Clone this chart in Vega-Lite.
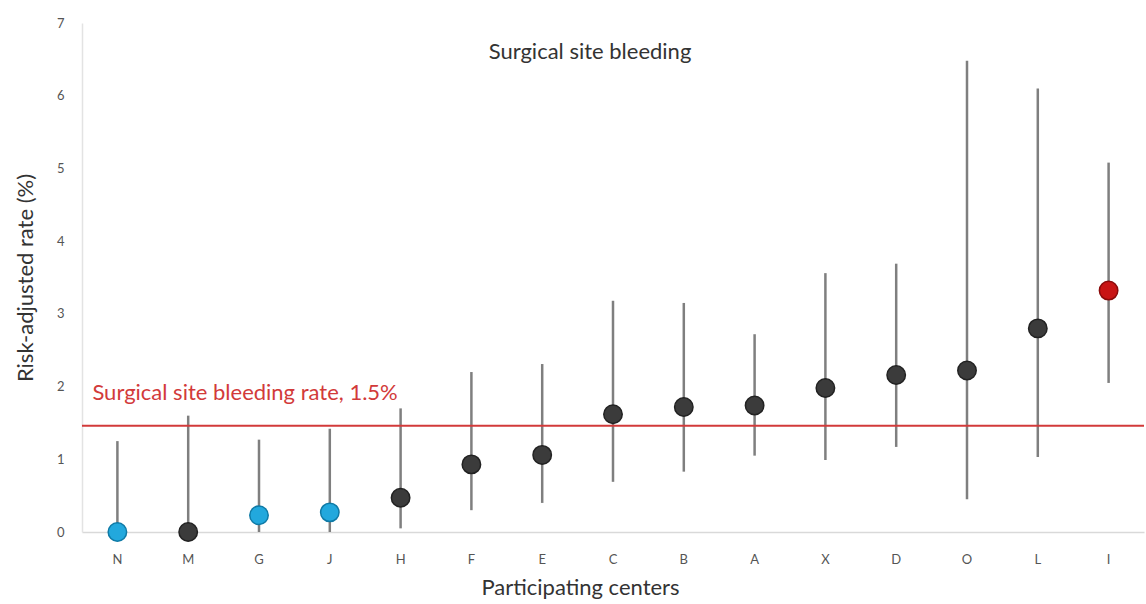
{
  "$schema": "https://vega.github.io/schema/vega-lite/v6.json",
  "width": 1062,
  "height": 509,
  "autosize": "none",
  "padding": {"left": 82, "top": 23, "right": 2, "bottom": 72},
  "background": "white",
  "config": {"view": {"stroke": null}, "font": "Lato"},
  "datasets": {
    "centers": [
      {"center": "N", "rate": 0.0, "lower": 0.0, "upper": 1.25, "group": "low"},
      {"center": "M", "rate": 0.0, "lower": 0.0, "upper": 1.6, "group": "mid"},
      {"center": "G", "rate": 0.23, "lower": 0.0, "upper": 1.27, "group": "low"},
      {"center": "J", "rate": 0.27, "lower": 0.0, "upper": 1.42, "group": "low"},
      {"center": "H", "rate": 0.47, "lower": 0.05, "upper": 1.7, "group": "mid"},
      {"center": "F", "rate": 0.93, "lower": 0.3, "upper": 2.2, "group": "mid"},
      {"center": "E", "rate": 1.06, "lower": 0.4, "upper": 2.31, "group": "mid"},
      {"center": "C", "rate": 1.62, "lower": 0.69, "upper": 3.18, "group": "mid"},
      {"center": "B", "rate": 1.72, "lower": 0.83, "upper": 3.15, "group": "mid"},
      {"center": "A", "rate": 1.74, "lower": 1.05, "upper": 2.72, "group": "mid"},
      {"center": "X", "rate": 1.98, "lower": 0.99, "upper": 3.56, "group": "mid"},
      {"center": "D", "rate": 2.16, "lower": 1.17, "upper": 3.69, "group": "mid"},
      {"center": "O", "rate": 2.22, "lower": 0.45, "upper": 6.48, "group": "mid"},
      {"center": "L", "rate": 2.8, "lower": 1.03, "upper": 6.1, "group": "mid"},
      {"center": "I", "rate": 3.32, "lower": 2.05, "upper": 5.08, "group": "high"}
    ],
    "notes": [{"label": "Surgical site bleeding rate, 1.5%", "reference": 1.46}]
  },
  "layer": [
    {
      "data": {"name": "centers"},
      "mark": {"type": "rule", "color": "#7f7f7f", "strokeWidth": 2.5},
      "encoding": {
        "x": {
          "field": "center", "type": "nominal", "sort": null,
          "scale": {"paddingInner": 0, "paddingOuter": 0},
          "axis": {
            "title": "Participating centers", "titleFontSize": 22, "titleFontWeight": "normal",
            "titleColor": "#333", "titlePadding": 11, "titleX": 498, "titleAlign": "center",
            "labelAngle": 0, "labelFontSize": 13, "labelColor": "#555", "labelPadding": 21,
            "ticks": false, "domainColor": "#d9d9d9", "domainWidth": 1.5, "grid": false
          }
        },
        "y": {
          "field": "lower", "type": "quantitative",
          "scale": {"domain": [0, 7], "nice": false, "zero": true},
          "axis": {
            "title": "Risk-adjusted rate (%)", "titleFontSize": 22, "titleFontWeight": "normal",
            "titleColor": "#333", "titlePadding": 19, "format": "d",
            "values": [0, 1, 2, 3, 4, 5, 6, 7], "labelFontSize": 13, "labelColor": "#555",
            "labelPadding": 18, "ticks": false, "grid": false,
            "domainColor": "#e3e3e3", "domainWidth": 1.5
          }
        },
        "y2": {"field": "upper"}
      }
    },
    {
      "data": {"name": "notes"},
      "mark": {"type": "rule", "color": "#d23a3a", "strokeWidth": 2},
      "encoding": {"y": {"field": "reference", "type": "quantitative"}}
    },
    {
      "data": {"name": "notes"},
      "mark": {"type": "text", "color": "#d23a3a", "fontSize": 22, "align": "left", "baseline": "middle", "dx": -25},
      "encoding": {
        "x": {"datum": "N"},
        "y": {"datum": 1.91, "type": "quantitative"},
        "text": {"field": "label"}
      }
    },
    {
      "data": {"name": "notes"},
      "mark": {"type": "text", "color": "#333", "fontSize": 22, "align": "center", "baseline": "middle", "dx": -23},
      "encoding": {
        "x": {"datum": "C"},
        "y": {"datum": 6.6, "type": "quantitative"},
        "text": {"value": "Surgical site bleeding"}
      }
    },
    {
      "data": {"name": "centers"},
      "mark": {"type": "point", "shape": "circle", "filled": true, "size": 340, "opacity": 1, "strokeWidth": 1.5},
      "encoding": {
        "x": {"field": "center", "type": "nominal", "sort": null},
        "y": {"field": "rate", "type": "quantitative"},
        "fill": {
          "field": "group", "type": "nominal",
          "scale": {"domain": ["low", "mid", "high"], "range": ["#22a8dd", "#3b3b3b", "#c81414"]},
          "legend": null
        },
        "stroke": {
          "field": "group", "type": "nominal",
          "scale": {"domain": ["low", "mid", "high"], "range": ["#0f7aa6", "#222222", "#8a0a0a"]},
          "legend": null
        }
      }
    }
  ]
}
